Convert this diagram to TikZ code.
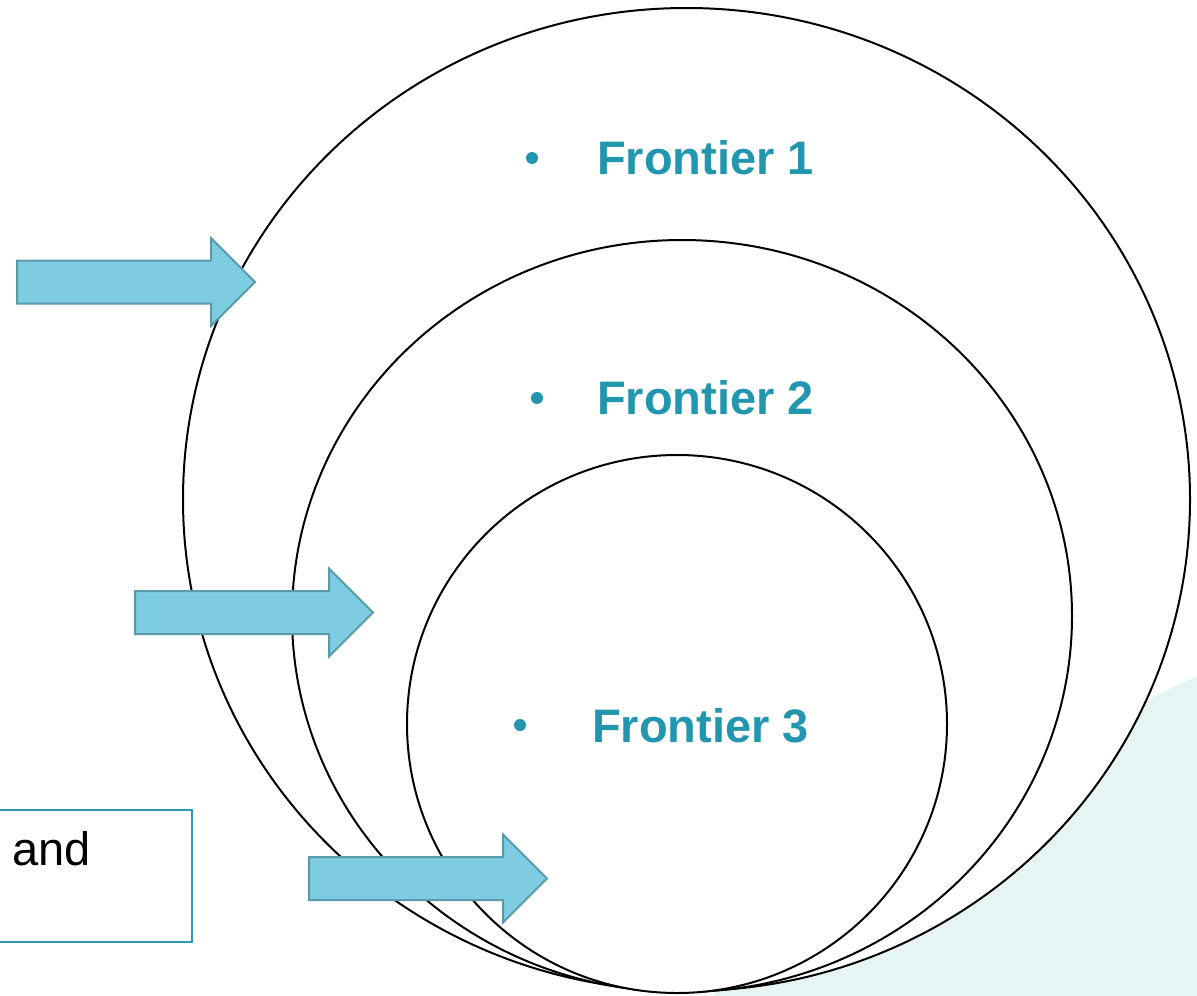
\documentclass[tikz,border=0pt]{standalone}
\usepackage{fontspec}
\setmainfont{Liberation Sans}
\definecolor{frontier}{HTML}{2196AE}
\definecolor{arrowfill}{HTML}{7ECCE2}
\definecolor{arrowline}{HTML}{5A9BAA}
\definecolor{boxline}{HTML}{2E9AB5}
\definecolor{bgshape}{HTML}{E6F4F4}
\newcommand\fatarrow[4]{%
  \path[fatarrowstyle] (#2,{#3-21.5}) -- ({#4-44},{#3-21.5}) -- ({#4-44},{#3-44})
    -- (#4,#3) coordinate (#1) -- ({#4-44},{#3+44}) -- ({#4-44},{#3+21.5}) -- (#2,{#3+21.5}) -- cycle;}
\begin{document}
\begin{tikzpicture}[x=1pt,y=-1pt,
  ring/.style={draw=black, line width=2pt, fill=white},
  fatarrowstyle/.style={fill=arrowfill, draw=arrowline, line width=2pt, line join=miter},
  frontiertext/.style={text=frontier, font=\fontsize{47}{56}\selectfont\bfseries, anchor=base west, inner sep=0pt},
  bulletdot/.style={circle, fill=frontier, minimum size=12pt, inner sep=0pt},
  notebox/.style={draw=boxline, line width=1.3pt, fill=white}]
\useasboundingbox (0,0) rectangle (1197,996);
% background shape
\fill[bgshape] (1197,676) .. controls (1000,770) and (800,880) .. (712,996) -- (1197,996) -- cycle;
% ellipses
\draw[ring] (686.5,499.5) ellipse [x radius=503.5, y radius=491.5];
\draw[ring] (682,616) ellipse [x radius=390, y radius=376];
\draw[ring] (677,724) ellipse [x radius=270, y radius=269];
% labels
\node[bulletdot] (b1) at (532,158) {};
\node[frontiertext] (f1) at (597,174) {Frontier 1};
\node[bulletdot] (b2) at (537,398) {};
\node[frontiertext] (f2) at (597,414) {Frontier 2};
\node[bulletdot] (b3) at (520,725) {};
\node[frontiertext] (f3) at (592,742) {Frontier 3};
% arrows
\fatarrow{a1}{17}{282}{255}
\fatarrow{a2}{135}{612.5}{373}
\fatarrow{a3}{309}{878.5}{547}
% note box
\draw[notebox] (-5,810) rectangle (192,942);
\node[anchor=base west, inner sep=0pt, font=\fontsize{47}{56}\selectfont] (andtext) at (12,865) {and};
\end{tikzpicture}
\end{document}
